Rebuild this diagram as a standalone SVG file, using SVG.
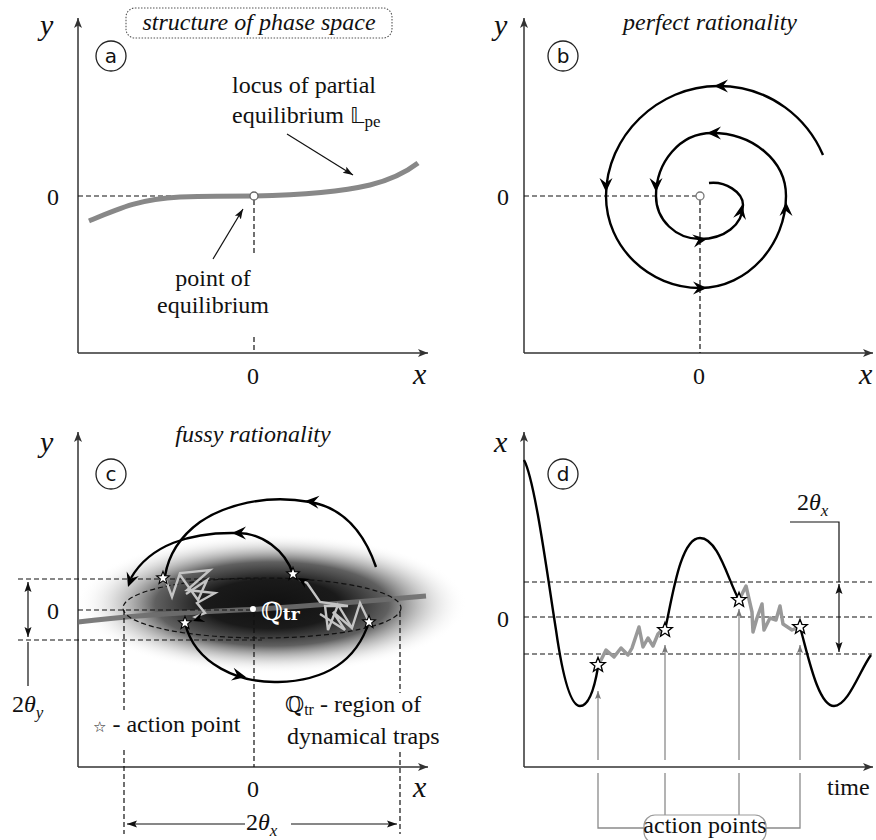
<svg xmlns="http://www.w3.org/2000/svg" xmlns:xlink="http://www.w3.org/1999/xlink" width="876" height="840" viewBox="0 0 876 840">
<style>
.ax{stroke:#333;stroke-width:1.5;fill:none}
.dash{stroke:#111;stroke-width:1.2;stroke-dasharray:5,3;fill:none}
.tr{stroke:#000;stroke-width:2.4;fill:none}
.thin{stroke:#111;stroke-width:1.2;fill:none}
.gthin{stroke:#8a8a8a;stroke-width:1.3;fill:none}
.zig{stroke:#c4c4c4;stroke-width:2.4;fill:none;stroke-linejoin:miter}
.zigd{stroke:#999;stroke-width:3.5;fill:none;stroke-linejoin:round}
.t{font-family:"Liberation Serif","DejaVu Serif",serif;font-size:24px;fill:#111}
.ti{font-family:"Liberation Serif","DejaVu Serif",serif;font-size:24px;font-style:italic;fill:#111}
.m{font-family:"Liberation Serif","DejaVu Serif",serif;font-size:30px;font-style:italic;fill:#111}
.lab{font-family:"DejaVu Sans","Liberation Sans",sans-serif;font-size:20px;fill:#111;text-anchor:middle}
.circ{fill:#fff;stroke:#222;stroke-width:1.3}
.star{fill:#fff;stroke:#000;stroke-width:1.2;stroke-linejoin:miter}
</style>
<defs>
<marker id="axh" markerWidth="12" markerHeight="10" refX="10" refY="5" orient="auto" markerUnits="userSpaceOnUse"><path d="M0,1 L10,5 L0,9 L2.5,5 z" fill="#333"/></marker>
<marker id="ah" markerWidth="11" markerHeight="9" refX="10" refY="4.5" orient="auto-start-reverse" markerUnits="userSpaceOnUse"><path d="M0,1 L10,4.5 L0,8 L2,4.5 z" fill="#111"/></marker>
<marker id="gah" markerWidth="9" markerHeight="8" refX="8" refY="4" orient="auto" markerUnits="userSpaceOnUse"><path d="M0,1 L8,4 L0,7 L1.5,4 z" fill="#777"/></marker>
<path id="head" d="M0,0 L-14,-6.5 L-9,0 L-14,6.5 Z" fill="#000"/>
<path id="st" d="M0,-7 L1.76,-2.43 L6.66,-2.16 L2.85,0.93 L4.11,5.66 L0,3 L-4.11,5.66 L-2.85,0.93 L-6.66,-2.16 L-1.76,-2.43 Z"/>
<radialGradient id="blob" cx="0.5" cy="0.5" r="0.5">
<stop offset="0" stop-color="#111" stop-opacity="1"/>
<stop offset="0.35" stop-color="#1a1a1a" stop-opacity="1"/>
<stop offset="0.6" stop-color="#444" stop-opacity="0.85"/>
<stop offset="0.8" stop-color="#999" stop-opacity="0.4"/>
<stop offset="1" stop-color="#fff" stop-opacity="0"/>
</radialGradient>
</defs>
<rect width="876" height="840" fill="#fff"/>

<!-- Panel a -->
<g id="panel-a">
<line class="ax" x1="78" y1="353" x2="78" y2="18" marker-end="url(#axh)"/>
<line class="ax" x1="78" y1="353" x2="428" y2="353" marker-end="url(#axh)"/>
<text class="m" x="40" y="35">y</text>
<text class="m" x="413" y="384">x</text>
<text class="t" x="47" y="205">0</text>
<text class="t" x="247" y="384">0</text>
<rect x="126" y="8" width="266" height="30" rx="9" fill="none" stroke="#555" stroke-width="1.1" stroke-dasharray="1.5,1.5"/>
<text class="ti" x="259" y="30" text-anchor="middle">structure of phase space</text>
<circle class="circ" cx="111" cy="56" r="15"/>
<text class="lab" x="111" y="63">a</text>
<line class="dash" x1="78" y1="196" x2="250" y2="196"/>
<line class="dash" x1="254" y1="200" x2="254" y2="253"/>
<line class="dash" x1="254" y1="337" x2="254" y2="353"/>
<path d="M89,221 C120,208 140,199 180,197 C215,196 240,196 254,196 C300,195 340,192 370,185 C390,180 405,173 418,163" stroke="#888" stroke-width="5" fill="none"/>
<circle cx="254" cy="196" r="4" fill="#fff" stroke="#666" stroke-width="1.3"/>
<text class="t" x="232" y="93">locus of partial</text>
<text class="t" x="232" y="123">equilibrium <tspan font-family="DejaVu Sans,sans-serif" font-size="22">𝕃</tspan><tspan font-size="17" dy="4">pe</tspan></text>
<line class="thin" x1="287" y1="134" x2="353" y2="175" marker-end="url(#ah)"/>
<text class="t" x="213" y="286" text-anchor="middle">point of</text>
<text class="t" x="213" y="313" text-anchor="middle">equilibrium</text>
<line class="thin" x1="213" y1="259" x2="243" y2="209" marker-end="url(#ah)"/>
</g>

<!-- Panel b -->
<g id="panel-b">
<line class="ax" x1="524" y1="353" x2="524" y2="18" marker-end="url(#axh)"/>
<line class="ax" x1="524" y1="353" x2="873" y2="353" marker-end="url(#axh)"/>
<text class="m" x="494" y="35">y</text>
<text class="m" x="859" y="384">x</text>
<text class="t" x="497" y="205">0</text>
<text class="t" x="693" y="384">0</text>
<text class="ti" x="710" y="30" text-anchor="middle">perfect rationality</text>
<circle class="circ" cx="563" cy="56" r="15"/>
<text class="lab" x="563" y="63">b</text>
<line class="dash" x1="524" y1="196" x2="696" y2="196"/>
<line class="dash" x1="700" y1="200" x2="700" y2="353"/>
<circle cx="700" cy="196" r="4" fill="#fff" stroke="#777" stroke-width="1.3"/>
<path class="tr" d="M823,155 C808,120 772,86 718,86 C658,86 606,136 606,196 C606,247 649,288 700,288 C748,288 786,244 786,196 C786,160 752,133 712,133 C680,133 656,162 656,196 C656,220 676,239 700,239 C724,239 743,225 743,205 C743,192 725,181 709,183"/>
<use href="#head" transform="translate(714,86) rotate(180)"/>
<use href="#head" transform="translate(606,192) rotate(90)"/>
<use href="#head" transform="translate(707,288) rotate(0)"/>
<use href="#head" transform="translate(786,202) rotate(-90)"/>
<use href="#head" transform="translate(707,133) rotate(180)"/>
<use href="#head" transform="translate(656,192) rotate(90)"/>
<use href="#head" transform="translate(707,239) rotate(-8)"/>
<use href="#head" transform="translate(742,205) rotate(-80)"/>
</g>

<!-- Panel c -->
<g id="panel-c">
<ellipse cx="272" cy="604" rx="195" ry="70" fill="url(#blob)"/>
<line class="ax" x1="78" y1="767" x2="78" y2="432" marker-end="url(#axh)"/>
<line class="ax" x1="78" y1="767" x2="428" y2="767" marker-end="url(#axh)"/>
<text class="m" x="40" y="452">y</text>
<text class="m" x="413" y="797">x</text>
<text class="t" x="47" y="619">0</text>
<text class="t" x="247" y="797">0</text>
<text class="ti" x="253" y="442" text-anchor="middle">fussy rationality</text>
<circle class="circ" cx="111" cy="474" r="15"/>
<text class="lab" x="111" y="481">c</text>
<path d="M78,622 C150,613 220,611 260,609 C320,605 380,600 426,596" stroke="#6e6e6e" stroke-width="5" fill="none" opacity="0.9"/>
<line class="dash" x1="18" y1="579" x2="262" y2="579"/>
<line class="dash" x1="18" y1="640" x2="262" y2="640"/>
<line class="dash" x1="78" y1="610" x2="252" y2="610"/>
<ellipse class="dash" cx="262" cy="608" rx="139" ry="30"/>
<line class="dash" x1="124" y1="610" x2="124" y2="710"/>
<line class="dash" x1="124" y1="750" x2="124" y2="834"/>
<line class="dash" x1="400" y1="612" x2="400" y2="693"/>
<line class="dash" x1="400" y1="752" x2="400" y2="834"/>
<line class="dash" x1="254" y1="612" x2="254" y2="767"/>
<line class="thin" x1="28" y1="582" x2="28" y2="637" marker-start="url(#ah)" marker-end="url(#ah)" stroke-width="1"/>
<line class="thin" x1="28" y1="642" x2="28" y2="686" stroke-width="1"/>
<text class="t" x="12" y="712">2<tspan font-style="italic">θ</tspan><tspan font-style="italic" font-size="17" dy="6">y</tspan></text>
<line class="thin" x1="245" y1="824" x2="127" y2="824" marker-end="url(#ah)" stroke-width="1"/>
<line class="thin" x1="291" y1="824" x2="397" y2="824" marker-end="url(#ah)" stroke-width="1"/>
<text class="t" x="246" y="830">2<tspan font-style="italic">θ</tspan><tspan font-style="italic" font-size="17" dy="6">x</tspan></text>
<circle cx="253" cy="609" r="3" fill="#fff"/>
<text x="261" y="620" font-family="DejaVu Serif,serif" font-size="25" fill="#fff">ℚ<tspan font-size="17" font-weight="bold">tr</tspan></text>
<path class="zig" d="M165,578 L172,597 L180,573 L210,570 L187,590 L215,593 L197,603 L205,613 L195,617 L199,619"/>
<path class="zig" d="M180,575 L198,600 L207,580 L186,594"/>
<use href="#head" transform="translate(193,621) rotate(160) scale(0.8)"/>
<path class="zig" d="M369,622 L360,603 L352,628 L338,605 L328,630 L325,606 L348,606 L320,602 L307,583 L300,580"/>
<path class="zig" d="M352,628 L333,612 L345,630 L320,614"/>
<use href="#head" transform="translate(298,578) rotate(-150) scale(0.8)"/>
<path class="tr" d="M376,567 C365,535 345,508 310,502 C265,494 225,505 200,522 C178,538 168,558 165,576"/>
<use href="#head" transform="translate(305,501) rotate(185)"/>
<path class="tr" d="M293,574 C285,550 262,533 237,533 C190,532 150,545 131,578"/>
<use href="#head" transform="translate(232,533) rotate(180)"/>
<use href="#head" transform="translate(128,587) rotate(110)"/>
<path class="tr" d="M185,623 C195,665 240,683 278,682 C320,681 355,665 369,622"/>
<use href="#head" transform="translate(246,677) rotate(12)"/>
<use href="#st" class="star" transform="translate(163,578) scale(0.95)"/>
<use href="#st" class="star" transform="translate(293,574) scale(0.95)"/>
<use href="#st" class="star" transform="translate(185,623) scale(0.95)"/>
<use href="#st" class="star" transform="translate(369,622) scale(0.95)"/>
<text class="t" x="93" y="732"><tspan font-family="DejaVu Sans,sans-serif" font-size="15">☆</tspan> - action point</text>
<text class="t" x="285" y="712"><tspan font-family="DejaVu Serif,serif" font-size="22">ℚ</tspan><tspan font-size="16" dy="3">tr</tspan><tspan dy="-3"> -  region of</tspan></text>
<text class="t" x="287" y="744">dynamical traps</text>
</g>

<!-- Panel d -->
<g id="panel-d">
<line class="ax" x1="524" y1="767" x2="524" y2="432" marker-end="url(#axh)"/>
<line class="ax" x1="524" y1="767" x2="873" y2="767" marker-end="url(#axh)"/>
<text class="m" x="494" y="452">x</text>
<text class="t" x="497" y="627">0</text>
<text class="t" x="827" y="795">time</text>
<circle class="circ" cx="563" cy="474" r="15"/>
<text class="lab" x="563" y="481">d</text>
<line class="dash" x1="524" y1="582" x2="872" y2="582"/>
<line class="dash" x1="524" y1="617" x2="872" y2="617"/>
<line class="dash" x1="524" y1="654" x2="872" y2="654"/>
<text class="t" x="797" y="510">2<tspan font-style="italic">θ</tspan><tspan font-style="italic" font-size="17" dy="6">x</tspan></text>
<polyline class="thin" stroke-width="1" points="790,522 839,522 839,582"/>
<line class="thin" x1="839" y1="600" x2="839" y2="584" marker-end="url(#ah)" stroke-width="1"/>
<line class="thin" x1="839" y1="600" x2="839" y2="652" marker-end="url(#ah)" stroke-width="1"/>
<path class="tr" d="M524,460 C535,480 548,580 556,630 C562,672 570,706 580,706 C590,706 595,685 598,667"/>
<path class="tr" d="M665,630 C672,600 680,538 700,538 C718,538 728,580 739,600"/>
<path class="tr" d="M800,627 C808,655 818,706 834,706 C848,706 860,670 871,655"/>
<path class="zigd" d="M600,662 L606,650 L614,657 L621,648 L628,655 L632,648 L639,627 L643,647 L648,638 L653,646 L658,634 L662,630"/>
<path class="zigd" d="M740,598 L746,586 L752,612 L753,632 L757,618 L762,604 L764,630 L770,618 L776,620 L780,606 L783,624 L792,630 L799,627"/>
<use href="#st" class="star" transform="translate(598,665) scale(1.1)"/>
<use href="#st" class="star" transform="translate(665,630) scale(1.1)"/>
<use href="#st" class="star" transform="translate(739,600) scale(1.1)"/>
<use href="#st" class="star" transform="translate(800,627) scale(1.1)"/>
<line class="gthin" x1="598" y1="760" x2="598" y2="691" marker-end="url(#gah)"/>
<line class="gthin" x1="665" y1="760" x2="665" y2="645" marker-end="url(#gah)"/>
<line class="gthin" x1="739" y1="760" x2="739" y2="609" marker-end="url(#gah)"/>
<line class="gthin" x1="800" y1="760" x2="800" y2="645" marker-end="url(#gah)"/>
<polyline class="gthin" points="598,773 598,828 644,828"/>
<polyline class="gthin" points="800,773 800,828 766,828"/>
<line class="gthin" x1="665" y1="773" x2="665" y2="815"/>
<line class="gthin" x1="739" y1="773" x2="739" y2="815"/>
<rect x="644" y="815" width="122" height="28" rx="11" fill="#fff" stroke="#999" stroke-width="1.2"/>
<text class="t" x="705" y="833" text-anchor="middle">action points</text>
</g>
</svg>
